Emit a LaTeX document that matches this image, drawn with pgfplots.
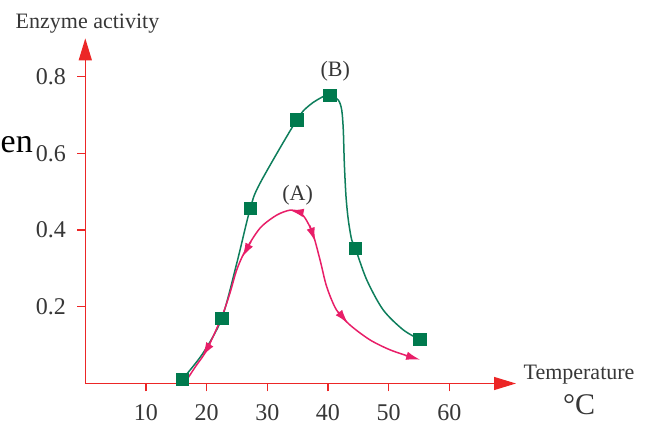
\documentclass[border=0pt]{standalone}
\usepackage{fontspec}
\setmainfont{Liberation Serif}
\usepackage{pgfplots}
\pgfplotsset{compat=1.18}
\usetikzlibrary{arrows.meta}
\definecolor{axred}{RGB}{236,38,38}
\definecolor{pinkA}{RGB}{232,30,104}
\definecolor{greenB}{RGB}{14,126,92}
\definecolor{sqgreen}{RGB}{0,122,78}
\definecolor{txt}{RGB}{55,55,55}

\begin{document}
\begin{tikzpicture}
\useasboundingbox (0,0) rectangle (650pt,425pt);
\begin{axis}[
  at={(85.3pt,41.5pt)}, anchor=south west,
  scale only axis, width=430.7pt, height=345.2pt,
  xmin=0, xmax=71, ymin=0, ymax=0.9,
  axis x line=bottom, axis y line=left,
  axis line style={draw=axred, line width=1.3pt, -{Triangle[length=22pt,width=13pt]}},
  xtick={10,20,30,40,50,60}, ytick={0.2,0.4,0.6,0.8},
  yticklabel style={/pgf/number format/fixed, /pgf/number format/precision=1, /pgf/number format/fixed zerofill, xshift=-8pt},
  xticklabel style={yshift=-10pt},
  tick align=outside, major tick length=8pt,
  tick style={draw=axred, line width=1.2pt},
  tick label style={font=\fontsize{24}{24}\selectfont, text=txt},
  /pgf/number format/assume math mode=true,
  clip=false,
]
% curve B
\addplot[greenB, line width=1.5pt, smooth, mark=none] coordinates {
  (16.0,0.011) (19.4,0.079) (22.5,0.170) (24.96,0.313) (27.2,0.457)
  (28.8,0.522) (34.85,0.687) (37.0,0.726) (39.2,0.748) (40.3,0.752)
  (41.7,0.739) (42.27,0.713) (42.53,0.661) (42.7,0.574) (42.98,0.487)
  (43.36,0.426) (43.92,0.374) (44.5,0.353) (46.4,0.270)
  (49.1,0.192) (52.4,0.140) (55.1,0.115)
};
% curve A
\addplot[pinkA, line width=1.5pt, smooth, mark=none] coordinates {
  (16.7,0.009) (18.25,0.046) (20.0,0.087) (22.5,0.174) (23.85,0.236) (24.96,0.296)
  (26.3,0.344) (28.8,0.405) (31.55,0.439) (33.75,0.452) (35.1,0.448) (36.2,0.432)
  (37.5,0.391) (38.7,0.322) (39.8,0.252) (41.4,0.192) (43.6,0.153) (46.9,0.114)
  (50.2,0.088) (53.5,0.070)
};
% arrow heads along A (tail -> tip)
\pgfplotsset{arrA/.style={pinkA, line width=1.5pt, mark=none, -{Latex[length=14pt,width=8.5pt]}}}
\addplot[arrA] coordinates {(20.6,0.104) (19.3,0.071)};
\addplot[arrA] coordinates {(27.3,0.370) (25.9,0.330)};
\addplot[arrA] coordinates {(35.6,0.446) (33.7,0.452)};
\addplot[arrA] coordinates {(37.0,0.412) (37.9,0.370)};
\addplot[arrA] coordinates {(41.7,0.187) (43.3,0.157)};
\addplot[arrA] coordinates {(52.8,0.073) (55.2,0.062)};
% squares of B
\addplot[only marks, mark=square*, mark size=6.3pt, mark options={fill=sqgreen, draw=sqgreen}] coordinates {
  (16.0,0.011) (22.5,0.170) (27.2,0.457) (34.85,0.687) (40.3,0.752) (44.5,0.353) (55.1,0.115)
};
\node[font=\fontsize{22}{22}\selectfont, text=txt] at (axis cs:41.2,0.815) {(B)};
\node[font=\fontsize{22}{22}\selectfont, text=txt] at (axis cs:35.0,0.49) {(A)};
\end{axis}
\node[anchor=base, font=\fontsize{22}{22}\selectfont, text=txt] at (87.5pt,396.7pt) {Enzyme activity};
\node[anchor=base, font=\fontsize{22}{22}\selectfont, text=txt] at (579pt,45pt) {Temperature};
\node[anchor=base, font=\fontsize{30}{30}\selectfont, text=txt] at (579pt,10pt) {°C};
\node[anchor=base west, inner sep=0pt, font=\fontsize{34}{34}\selectfont, text=black] at (0.5pt,272.3pt) {en};
\end{tikzpicture}
\end{document}
